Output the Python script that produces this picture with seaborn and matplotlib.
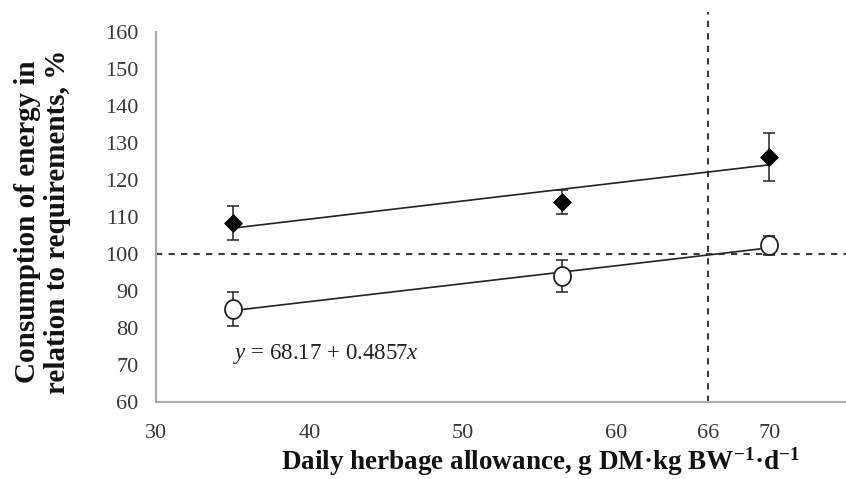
import numpy as np
import pandas as pd
import matplotlib
matplotlib.use("Agg")
import matplotlib.pyplot as plt
from matplotlib.path import Path
import seaborn as sns

# Data
allowance = [35, 56.5, 70]
upper_vals = [108.3, 114.1, 126.2]
upper_err = [4.6, 3.3, 6.6]
lower_vals = [85.1, 94.1, 102.3]
lower_err = [4.6, 4.3, 2.5]
x_ticks = [30, 40, 50, 60, 66, 70]
y_ticks = [60, 70, 80, 90, 100, 110, 120, 130, 140, 150, 160]
threshold_x = 66
threshold_y = 100
eq_text = r"$y$ = 68.17 + 0.4857$x$"

sns.set_theme(style="white")
plt.rcParams["font.family"] = ["Liberation Serif", "DejaVu Serif"]
plt.rcParams["mathtext.fontset"] = "custom"
plt.rcParams["mathtext.it"] = "Liberation Serif:italic"
plt.rcParams["mathtext.rm"] = "Liberation Serif"
plt.rcParams["mathtext.bf"] = "Liberation Serif:bold"

df_up = pd.DataFrame({"x": allowance, "y": upper_vals})
df_lo = pd.DataFrame({"x": allowance, "y": lower_vals})

# slightly tall ellipse marker
t = np.linspace(0, 2 * np.pi, 60)
ell = Path(np.column_stack([0.45 * np.cos(t), 0.5 * np.sin(t)]), closed=True)

fig = plt.figure(figsize=(8.46, 4.79), dpi=100)
ax = fig.add_axes([156 / 846, 77 / 479, 690 / 846, 370 / 479])

# reference lines
ax.axhline(threshold_y, color="#3a3a3a", lw=1.5, ls=(0, (3, 3)), zorder=1)
ax.axvline(threshold_x, ymin=0, ymax=1.054, clip_on=False, color="#3a3a3a",
           lw=1.5, ls=(0, (3, 3)), zorder=1)

# trend lines
sns.regplot(data=df_up, x="x", y="y", ax=ax, scatter=False, ci=None,
            line_kws={"color": "#222222", "lw": 1.2})
sns.regplot(data=df_lo, x="x", y="y", ax=ax, scatter=False, ci=None,
            line_kws={"color": "#222222", "lw": 1.2})

# error bars + markers
ax.errorbar(allowance, upper_vals, yerr=upper_err, fmt="none", ecolor="#222222",
            elinewidth=1.1, capsize=4.5, capthick=1.1, zorder=3)
ax.errorbar(allowance, lower_vals, yerr=lower_err, fmt="none", ecolor="#222222",
            elinewidth=1.1, capsize=4.5, capthick=1.1, zorder=3)
sns.scatterplot(data=df_up, x="x", y="y", ax=ax, marker="D", s=80,
                color="black", edgecolor="black", zorder=4)
sns.scatterplot(data=df_lo, x="x", y="y", ax=ax, marker=ell, s=185,
                facecolor="white", edgecolor="#222222", linewidth=1.3, zorder=4)

ax.text(35.05, 73, eq_text, fontsize=16.5, ha="left", va="center", color="#222222")

ax.set_xlim(30, 75)
ax.set_ylim(60, 160)
ax.set_xticks(x_ticks)
ax.set_xticklabels([str(t) for t in x_ticks])
ax.set_yticks(y_ticks)
ax.set_yticklabels([str(t) for t in y_ticks])
ax.tick_params(axis="both", direction="out", length=5.5, width=1.2, color="#aaaaaa",
               labelsize=16, labelcolor="#383838")
ax.tick_params(axis="y", pad=7)
ax.tick_params(axis="x", pad=10)

for s in ["top", "right"]:
    ax.spines[s].set_visible(False)
for s in ["left", "bottom"]:
    ax.spines[s].set_color("#aaaaaa")
    ax.spines[s].set_linewidth(1.5)

ax.set_xlabel(r"Daily herbage allowance, g DM·kg BW$^{\mathbf{-1}}$·d$^{\mathbf{-1}}$",
              fontsize=19.5, fontweight="bold", color="#111111")
ax.xaxis.set_label_coords(0.557, -0.118)
ax.set_ylabel("Consumption of energy in\nrelation to requirements, %",
              fontsize=21, fontweight="bold", color="#111111",
              linespacing=1.15)
ax.yaxis.set_label_coords(-0.123, 0.486)

fig.savefig("out.png", dpi=100)
